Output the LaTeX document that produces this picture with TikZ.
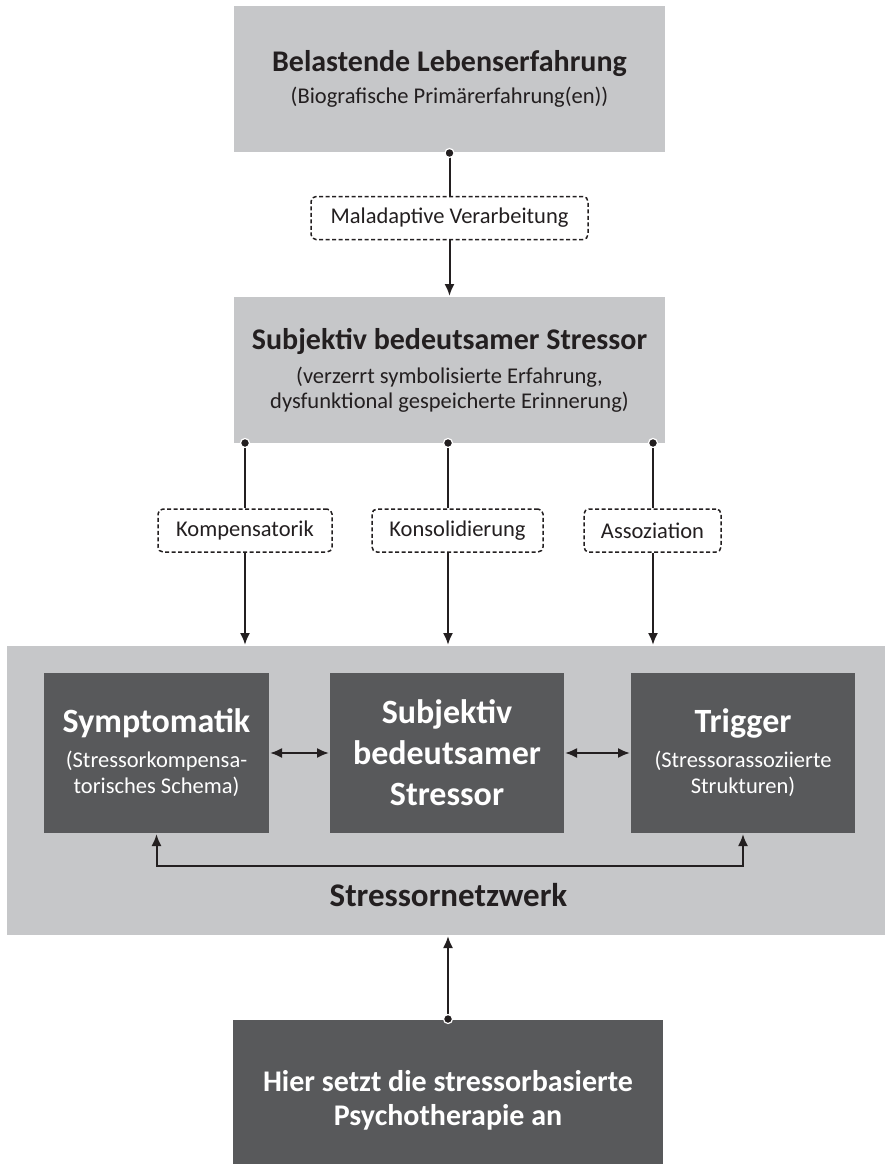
\documentclass[tikz,border=0pt]{standalone}
\usepackage{fontspec}
\setmainfont{Carlito}
\usepackage{tikz}
\usetikzlibrary{arrows.meta}
\definecolor{hell}{HTML}{C6C7C9}
\definecolor{dunkel}{HTML}{58595B}
\definecolor{schrift}{HTML}{231F20}

\newcommand{\kopf}{\fontsize{30}{34}\bfseries\selectfont}
\newcommand{\kopfgross}{\fontsize{34}{41}\bfseries\selectfont}
\newcommand{\unter}{\fontsize{22.5}{25}\selectfont}

\begin{document}
\begin{tikzpicture}[x=1pt, y=-1pt, line width=2pt, draw=schrift,
  hellbox/.style={fill=hell, text=schrift, align=center, inner sep=0pt, font=\unter},
  dunkelbox/.style={fill=dunkel, text=white, align=center, inner sep=0pt, font=\unter},
  wegbox/.style={draw=schrift, line width=1.5pt, dash pattern=on 4pt off 2.5pt,
    rounded corners=5pt, fill=white, text=schrift, font=\unter, inner sep=0pt,
    minimum height=43pt},
  pfeil/.style={-{Latex[length=12pt, width=10pt]}},
  doppelpfeil/.style={{Latex[length=12pt, width=10pt]}-{Latex[length=12pt, width=10pt]}},
  punkt/.style={fill=schrift, draw=white, line width=1.2pt}]
  \useasboundingbox (0,0) rectangle (887,1164);

  % obere Kaesten
  \node[hellbox, minimum width=431pt, minimum height=146pt] (lebens) at (449.5,79)
    {{\kopf Belastende Lebenserfahrung}\\[7pt](Biografische Primärerfahrung(en))};
  \node[wegbox, minimum width=277pt] (malad) at (449.5,218) {Maladaptive Verarbeitung};
  \node[hellbox, minimum width=431pt, minimum height=146pt] (stressor) at (449.5,370)
    {{\kopf Subjektiv bedeutsamer Stressor}\\[9pt](verzerrt symbolisierte Erfahrung,\\
     dysfunktional gespeicherte Erinnerung)};

  \coordinate (s1) at (245,443);
  \coordinate (s2) at (448,443);
  \coordinate (s3) at (653,443);

  \node[wegbox, minimum width=174pt] (kompens) at (245,530.5) {Kompensatorik};
  \node[wegbox, minimum width=171pt] (konsol) at (457.5,530.5) {Konsolidierung};
  \node[wegbox, minimum width=137pt] (assoz) at (652.5,530.5) {Assoziation};

  % Stressornetzwerk
  \node[hellbox, minimum width=878pt, minimum height=289pt] (netz) at (446,790.5) {};
  \node[dunkelbox, minimum width=225pt, minimum height=160pt] (symp) at (156.5,753)
    {{\kopfgross Symptomatik}\\[10pt](Stressorkompensa-\\[1pt]torisches Schema)};
  \node[dunkelbox, minimum width=234pt, minimum height=160pt, font=\kopfgross] (kern) at (447,753)
    {Subjektiv\\bedeutsamer\\Stressor};
  \node[dunkelbox, minimum width=224pt, minimum height=160pt] (trig) at (743,753)
    {{\kopfgross Trigger}\\[10pt](Stressorassoziierte\\[1pt]Strukturen)};
  \node[text=schrift, font=\fontsize{33}{38}\bfseries\selectfont] (netzname) at (448.5,895)
    {Stressornetzwerk};

  \node[dunkelbox, minimum width=430pt, minimum height=144pt] (therapie) at (448,1092) {};
  \node[text=white, align=center, font=\kopf] (therapietext) at (448,1100)
    {Hier setzt die stressorbasierte\\Psychotherapie an};

  % Verbindungen
  \draw (lebens.south) -- (malad);
  \draw[pfeil] (malad) -- (stressor);
  \draw (s1) -- (kompens);
  \draw[pfeil] (kompens) -- (kompens |- netz.north);
  \draw (s2) -- (s2 |- konsol.north);
  \draw[pfeil] (s2 |- konsol.south) -- (s2 |- netz.north);
  \draw (s3) -- (s3 |- assoz.north);
  \draw[pfeil] (s3 |- assoz.south) -- (s3 |- netz.north);
  \draw[doppelpfeil] (symp) -- (kern);
  \draw[doppelpfeil] (kern) -- (trig);
  \draw[doppelpfeil] (symp.south) -- ++(0,32) -| (trig.south);
  \draw[pfeil] (therapie.north) -- (therapie.north |- netz.south);

  \fill[punkt] (lebens.south) circle (4.5pt);
  \fill[punkt] (s1) circle (4.5pt);
  \fill[punkt] (s2) circle (4.5pt);
  \fill[punkt] (s3) circle (4.5pt);
  \fill[punkt] (therapie.north) circle (4.5pt);
\end{tikzpicture}
\end{document}
